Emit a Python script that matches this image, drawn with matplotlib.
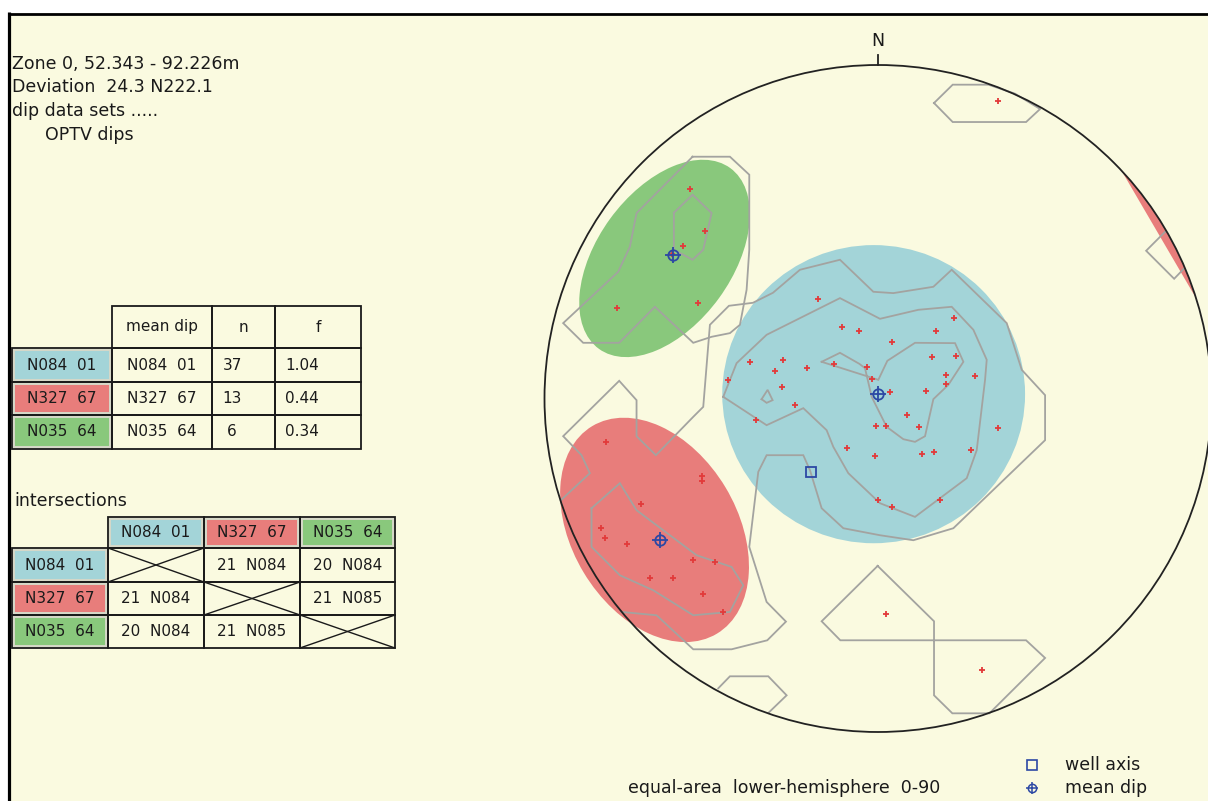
import numpy as np
import matplotlib.pyplot as plt
from matplotlib.patches import Ellipse, Circle, Rectangle

plt.rcParams['font.family'] = ['DejaVu Sans']

# ---- header info
zone_label = "Zone 0, 52.343 - 92.226m"
well_incl = 24.3        # deviation from vertical
well_azi = 222.1
dataset_name = "OPTV dips"

# ---- dip sets (strike N..., dip) and stats
set_strike = [84, 327, 35]
set_dip = [1, 67, 64]
set_n = [37, 13, 6]
set_f = [1.04, 0.44, 0.34]
set_colors = ["#a3d4d8", "#e87d7b", "#89c87c"]

# intersections: plunge / azimuth
inter_plunge = [[None, 21, 20], [21, None, 21], [20, 21, None]]
inter_azi = [[None, 84, 84], [84, None, 85], [84, 85, None]]

# confidence areas, net units (percent of net radius)
cone_x = [-1.3, -67.0, -64.0]
cone_y = [1.3, -39.4, 42.0]
cone_a = [45.4, 36.3, 33.5]
cone_b = [44.7, 24.8, 20.2]
cone_ang = [0, 121, 54]
# part of the N327 area that wraps round onto the primitive (trend range)
wrap_trends = [46.9, 72.5]

# poles, net units
blue_x = [-18.0, -10.8, -5.6, 17.5, 22.8, 4.3, -38.4, -28.4, -30.8, -21.3, -44.9, -13.2, -3.2,
          -1.7, 16.3, 23.5, 20.3, 20.3, 29.1, -28.8, 3.5, 14.3, -24.8, -36.6, 8.7, -0.5, 2.3,
          12.3, 35.9, -9.3, -0.9, 13.1, 16.7, 27.9, -0.1, 4.1, 18.5]
blue_y = [29.9, 21.5, 20.3, 20.3, 24.2, 17.0, 11.0, 11.5, 8.3, 9.2, 5.5, 10.3, 9.5,
          5.9, 12.4, 12.7, 7.1, 4.3, 6.7, 3.5, 1.9, 2.3, -2.0, -6.5, -4.9, -8.2, -8.2,
          -8.6, -8.9, -14.9, -17.3, -16.6, -16.1, -15.4, -30.5, -32.6, -30.5]
red_x = [-81.6, -52.8, -52.8, -71.2, -83.2, -82.0, -75.2, -55.6, -49.0, -68.4, -61.6, -52.4, -46.4]
red_y = [-13.0, -23.3, -24.7, -31.7, -38.9, -41.8, -43.7, -48.5, -49.1, -53.8, -53.8, -58.6, -64.1]
green_x = [-56.4, -52.0, -58.4, -61.7, -78.4, -54.0]
green_y = [62.8, 50.3, 45.8, 43.4, 27.1, 28.7]
other_x = [35.9, 2.4, 31.2]
other_y = [89.3, -64.6, -81.4]

# density contours, net units
contours = [
    [(-95.1, -30.5), (-86.4, -22.4), (-88.9, -17.0), (-94.4, -11.3), (-77.6, 5.3), (-72.4, -0.5),
     (-72.4, -11.3), (-66.6, -17.0), (-55.4, -5.5), (-52.4, -2.5), (-50.4, 22.1), (-44.7, 27.8),
     (-37.5, 28.7), (-31.5, 31.7), (-23.4, 38.6), (-11.4, 41.6), (-1.4, 32.0), (4.6, 31.6),
     (16.6, 33.5), (22.1, 38.6), (38.6, 22.6), (43.1, 8.6), (50.1, 1.0), (50.1, -12.5),
     (22.6, -38.9), (10.6, -42.5), (0.6, -41.0), (-10.4, -38.9), (-16.9, -32.9), (-20.4, -21.5),
     (-22.4, -17.0), (-33.4, -17.0), (-35.9, -22.0), (-38.6, -44.5), (-33.4, -61.0),
     (-27.6, -66.9), (-33.2, -72.5), (-43.9, -75.2), (-55.4, -75.2), (-66.4, -65.0), (-76.9, -64.0)],
    [(-46.4, 0.5), (-42.4, 10.6), (-33.4, 19.1), (-11.4, 30.1), (0.6, 23.9), (12.1, 26.6),
     (22.1, 27.5), (28.6, 20.6), (32.6, 11.6), (32.1, 5.6), (29.6, -15.5), (26.6, -23.9),
     (11.1, -35.5), (0.6, -31.4), (-8.9, -22.4), (-13.4, -14.5), (-15.4, -9.5), (-22.4, -2.9),
     (-33.4, -8.0), (-46.4, 0.5)],
    [(-16.9, 11.0), (-11.4, 13.7), (-5.6, 10.4), (-3.9, 9.1), (-1.9, 0.5), (2.6, -8.5),
     (7.6, -12.2), (11.1, -13.0), (14.1, -11.3), (16.6, -0.2), (21.1, 4.1), (25.6, 11.0),
     (23.1, 16.6), (11.1, 16.7), (2.8, 11.3), (0.1, 5.6), (-16.9, 11.0)],
    [(-34.9, -0.2), (-33.1, 2.6), (-31.6, -0.5), (-33.4, -1.3), (-34.9, -0.2)],
    [(-85.9, -32.9), (-77.4, -25.4), (-72.4, -33.5), (-54.4, -47.0), (-43.9, -50.5), (-40.4, -56.0),
     (-44.4, -64.0), (-55.4, -65.0), (-67.4, -57.5), (-77.4, -53.0), (-85.9, -44.5), (-85.9, -32.9)],
    [(-55.6, 72.5), (-44.4, 72.5), (-38.6, 67.1), (-38.6, 44.6), (-39.4, 32.6), (-41.4, 22.1),
     (-44.4, 19.6), (-49.9, 18.5), (-55.4, 16.7), (-66.9, 27.5), (-77.6, 16.7), (-88.4, 16.7),
     (-94.4, 22.6), (-77.9, 38.0), (-74.4, 45.5), (-72.4, 55.6), (-55.6, 72.5)],
    [(-61.2, 55.7), (-55.6, 61.1), (-49.9, 55.6), (-52.4, 44.6), (-55.6, 41.6), (-61.2, 44.6),
     (-61.2, 55.7)],
    [(16.8, 88.6), (22.4, 94.1), (33.1, 94.1), (41.1, 91.4), (48.6, 86.8), (44.4, 82.9),
     (22.4, 82.9), (16.8, 88.6)],
    [(86.1, 50.0), (80.4, 44.3), (88.8, 35.9), (91.6, 38.8)],
    [(-0.1, -50.2), (-16.9, -66.8), (-11.3, -72.5), (44.4, -72.5), (50.1, -77.8), (33.4, -94.4),
     (22.3, -94.4), (16.8, -89.0), (16.8, -66.8), (-0.1, -50.2)],
    [(-47.9, -86.9), (-44.4, -83.3), (-32.9, -83.3), (-27.4, -89.0), (-32.9, -94.3)],
]


def equal_area(trend, plunge):
    r = 100 * np.sqrt(2) * np.sin(np.radians(90 - plunge) / 2)
    t = np.radians(trend)
    return r * np.sin(t), r * np.cos(t)


def set_label(strike, dip):
    return f"N{strike:03d}  {dip:02d}"


W, H = 1208, 801
bg = "#fafae0"
ink = "#1a1a1a"
mark_blue = "#2c48a4"

fig = plt.figure(figsize=(W / 100, H / 100), dpi=100, facecolor="white")

# ---- page axes in pixel units
ax = fig.add_axes([0, 0, 1, 1])
ax.set_xlim(0, W)
ax.set_ylim(H, 0)
ax.axis("off")
ax.add_patch(Rectangle((8, 13), W, H, fc=bg, ec="none"))
ax.plot([9, 9], [12, H], color="black", lw=2.3, solid_capstyle="butt")
ax.plot([8, W], [13.5, 13.5], color="black", lw=2.0, solid_capstyle="butt")

fs = 12.5
ax.text(12, 69, zone_label, fontsize=fs, color=ink)
ax.text(12, 92, f"Deviation  {well_incl} N{well_azi}", fontsize=fs, color=ink)
ax.text(12, 116, "dip data sets .....", fontsize=fs, color=ink)
ax.text(45, 140, dataset_name, fontsize=fs, color=ink)


def cell(x0, x1, y0, y1, color=None):
    if color is not None:
        ax.add_patch(Rectangle((x0 + 2, y0 + 2), x1 - x0 - 4, y1 - y0 - 4,
                               fc=color, ec="#d6d8c8", lw=1.4))
    ax.add_patch(Rectangle((x0, y0), x1 - x0, y1 - y0, fc="none", ec=ink, lw=1.3))


def cell_text(x, y, s, ha="center"):
    ax.text(x, y, s, fontsize=11, color=ink, ha=ha, va="center")


# ---- statistics table
cx = [12, 112, 212, 275, 361]
ry = [306, 348, 382, 415, 449]
for j, head in enumerate(["mean dip", "n", "f"]):
    cell(cx[j + 1], cx[j + 2], ry[0], ry[1])
    cell_text((cx[j + 1] + cx[j + 2]) / 2, (ry[0] + ry[1]) / 2, head)
for i in range(3):
    y0, y1 = ry[i + 1], ry[i + 2]
    ym = (y0 + y1) / 2
    lab = set_label(set_strike[i], set_dip[i])
    cell(cx[0], cx[1], y0, y1, set_colors[i])
    cell_text((cx[0] + cx[1]) / 2, ym, lab)
    for j in range(1, 4):
        cell(cx[j], cx[j + 1], y0, y1)
    cell_text((cx[1] + cx[2]) / 2, ym, lab)
    cell_text(232, ym, str(set_n[i]))
    cell_text(285, ym, f"{set_f[i]:.2f}", ha="left")

# ---- intersections table
ax.text(14, 506, "intersections", fontsize=fs, color=ink)
ix = [12, 108, 204, 300, 395]
iy = [517, 548, 582, 615, 648]
for j in range(3):
    cell(ix[j + 1], ix[j + 2], iy[0], iy[1], set_colors[j])
    cell_text((ix[j + 1] + ix[j + 2]) / 2, (iy[0] + iy[1]) / 2,
              set_label(set_strike[j], set_dip[j]))
for i in range(3):
    y0, y1 = iy[i + 1], iy[i + 2]
    ym = (y0 + y1) / 2
    cell(ix[0], ix[1], y0, y1, set_colors[i])
    cell_text((ix[0] + ix[1]) / 2, ym, set_label(set_strike[i], set_dip[i]))
    for j in range(3):
        x0, x1 = ix[j + 1], ix[j + 2]
        cell(x0, x1, y0, y1)
        if inter_plunge[i][j] is None:
            ax.plot([x0, x1], [y0, y1], color=ink, lw=1.0)
            ax.plot([x0, x1], [y1, y0], color=ink, lw=1.0)
        else:
            cell_text((x0 + x1) / 2, ym, f"{inter_plunge[i][j]}  N{inter_azi[i][j]:03d}")

# ---- bottom captions / legend
ax.text(628, 793, "equal-area  lower-hemisphere  0-90", fontsize=fs, color=ink)
ax.plot(1032, 765, marker="s", ms=6.5, mfc="none", mec=mark_blue, mew=1.2)
ax.plot(1032, 788, marker="o", ms=6, mfc="none", mec=mark_blue, mew=1.1)
ax.plot(1032, 788, marker="+", ms=9, mec=mark_blue, mew=1.1)
ax.text(1065, 770, "well axis", fontsize=fs, color=ink)
ax.text(1065, 793, "mean dip", fontsize=fs, color=ink)

# ---- stereonet, radius = 100 net units
cx_px, cy_px, rad_px = 878, 398.5, 333.5
net = fig.add_axes([(cx_px - rad_px) / W, (H - cy_px - rad_px) / H, 2 * rad_px / W, 2 * rad_px / H])
net.set_xlim(-100, 100)
net.set_ylim(-100, 100)
net.axis("off")
net.patch.set_alpha(0)

for i in range(3):
    net.add_patch(Ellipse((cone_x[i], cone_y[i]), 2 * cone_a[i], 2 * cone_b[i],
                          angle=cone_ang[i], fc=set_colors[i], ec="none", zorder=1))
tw = np.radians(np.linspace(wrap_trends[0], wrap_trends[1], 40))
net.fill(100 * np.sin(tw), 100 * np.cos(tw), color=set_colors[1], lw=0, zorder=1)

for line in contours:
    xy = np.array(line)
    net.plot(xy[:, 0], xy[:, 1], color="#a3a3a0", lw=1.3, zorder=2, solid_joinstyle="miter")

pts_x = blue_x + red_x + green_x + other_x
pts_y = blue_y + red_y + green_y + other_y
net.plot(pts_x, pts_y, ls="none", marker="+", ms=4.0, mew=1.3, color="#e23a3a", zorder=3)

for s, d in zip(set_strike, set_dip):
    mx, my = equal_area((s - 90) % 360, 90 - d)
    net.plot(mx, my, marker="o", ms=7.5, mfc="none", mec=mark_blue, mew=1.3, zorder=4)
    net.plot(mx, my, marker="+", ms=11, mec=mark_blue, mew=1.3, zorder=4)

wx, wy = equal_area(well_azi, 90 - well_incl)
net.plot(wx, wy, marker="s", ms=7, mfc="none", mec=mark_blue, mew=1.3, zorder=4)

net.add_patch(Circle((0, 0), 100, fill=False, ec="#222222", lw=1.3, zorder=5, clip_on=False))
net.plot([0, 0], [100, 103], color="#222222", lw=1.3, clip_on=False)
net.text(0, 104.5, "N", ha="center", va="bottom", fontsize=fs, color=ink, clip_on=False)

fig.savefig("out.png", dpi=100, facecolor="white")
